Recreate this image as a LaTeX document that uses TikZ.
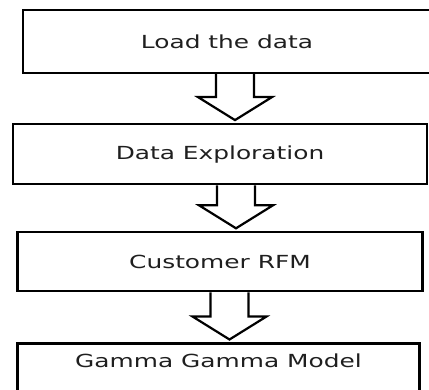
\documentclass[tikz,border=0pt]{standalone}
\usepackage{fontspec}
\setmainfont{DejaVu Sans}[FakeStretch=1.38]
\usepackage{tikz}
\usetikzlibrary{positioning,calc}

% hollow block arrow from one box down to the next
\newcommand{\flowarrow}[3]{%
  \coordinate (tip) at ([xshift=#3, yshift=3pt]#2.north);
  \draw [hollow] ($(tip |- #1.south)+(-19,0)$) -- ($(tip)+(-19,-23)$)
    -- ($(tip)+(-37,-23)$) -- (tip) -- ($(tip)+(37,-23)$)
    -- ($(tip)+(19,-23)$) -- ($(tip |- #1.south)+(19,0)$);
}

\begin{document}
\begin{tikzpicture}[
    x=1pt, y=-1pt,
    node distance=48pt,
    font=\fontsize{18}{21}\selectfont,
    stepbox/.style={
		rectangle,
		draw=black,
		line width=2.2pt,
		text=black!88,
		text centered,
		fill=white
	},
	hollow/.style={
		draw=black,
		line width=2.2pt,
		fill=white,
		line join=miter
	}
  ]
  \useasboundingbox (0,0) rectangle (429,390);

  % the four steps, top to bottom
  \node [stepbox, minimum width=408pt, minimum height=63pt] (load) at (227,41.5)
  {Load the data};

  \node [stepbox, below=49pt of load, xshift=-7pt, minimum width=414pt, minimum height=60pt] (explore)
  {Data Exploration};

  \node [stepbox, below=46pt of explore, minimum width=405pt, minimum height=59pt] (rfm)
  {Customer RFM};

  \node [stepbox, below=50pt of rfm, xshift=-1.5pt, minimum width=402pt,
         inner ysep=0pt, text height=24pt, text depth=36pt] (model)
  {Gamma Gamma Model};

  % arrows between the blocks
  \flowarrow{load}{explore}{15pt}
  \flowarrow{explore}{rfm}{16pt}
  \flowarrow{rfm}{model}{11pt}
\end{tikzpicture}
\end{document}
